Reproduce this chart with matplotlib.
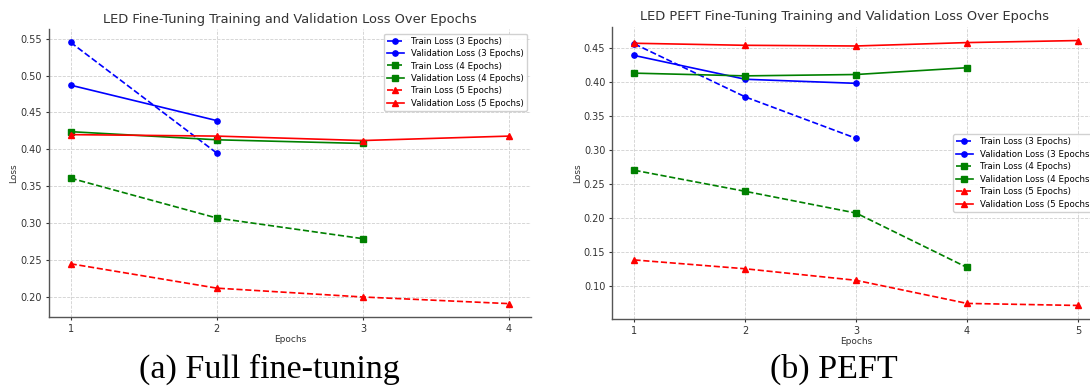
import matplotlib
matplotlib.use("Agg")
import matplotlib.pyplot as plt

# ---- data: full fine-tuning (a) ----
a_train3 = [0.545, 0.395]
a_val3 = [0.487, 0.439]
a_train4 = [0.361, 0.307, 0.279]
a_val4 = [0.424, 0.413, 0.408]
a_train5 = [0.245, 0.212, 0.200, 0.191]
a_val5 = [0.420, 0.418, 0.412, 0.418]

# ---- data: PEFT (b) ----
b_train3 = [0.456, 0.378, 0.317]
b_val3 = [0.439, 0.404, 0.398]
b_train4 = [0.270, 0.239, 0.207, 0.127]
b_val4 = [0.413, 0.409, 0.411, 0.421]
b_train5 = [0.138, 0.125, 0.108, 0.074, 0.071]
b_val5 = [0.457, 0.454, 0.453, 0.458, 0.461]

labels = ["Train Loss (3 Epochs)", "Validation Loss (3 Epochs)",
          "Train Loss (4 Epochs)", "Validation Loss (4 Epochs)",
          "Train Loss (5 Epochs)", "Validation Loss (5 Epochs)"]
title_a = "LED Fine-Tuning Training and Validation Loss Over Epochs"
title_b = "LED PEFT Fine-Tuning Training and Validation Loss Over Epochs"
caption_a = "(a) Full fine-tuning"
caption_b = "(b) PEFT"

W, H = 1090, 392
fig = plt.figure(figsize=(W / 100, H / 100), dpi=100)


def px_axes(x0, x1, ytop, ybot):
    return fig.add_axes([x0 / W, (H - ybot) / H, (x1 - x0) / W, (ybot - ytop) / H])


ax_a = px_axes(48.7, 531, 29.3, 316.7)
ax_b = px_axes(612.3, 1100, 27.3, 318.7)

styles = [("b", "o", "--"), ("b", "o", "-"), ("g", "s", "--"),
          ("g", "s", "-"), ("r", "^", "--"), ("r", "^", "-")]


def draw(ax, series):
    for vals, (c, m, ls), lab in zip(series, styles, labels):
        x = list(range(1, len(vals) + 1))
        ax.plot(x, vals, color=c, marker=m, linestyle=ls, label=lab,
                linewidth=1.2, markersize=3.8)
    for s in ["top", "right"]:
        ax.spines[s].set_visible(False)
    for s in ["left", "bottom"]:
        ax.spines[s].set_color("#555555")
        ax.spines[s].set_linewidth(1.0)
    ax.grid(True, color="#d0d0d0", linestyle="--", linewidth=0.6)
    ax.tick_params(labelsize=7, colors="#333333", length=2.5, width=0.8, pad=2.5)
    ax.set_xlabel("Epochs", fontsize=6.5, color="#333333", labelpad=1)
    ax.set_ylabel("Loss", fontsize=6.5, color="#333333", labelpad=1.5)


draw(ax_a, [a_train3, a_val3, a_train4, a_val4, a_train5, a_val5])
draw(ax_b, [b_train3, b_val3, b_train4, b_val4, b_train5, b_val5])
ax_a.set_xticks([1, 2, 3, 4])
ax_b.set_xticks([1, 2, 3, 4, 5])

leg_kw = dict(fontsize=6.2, framealpha=0.9, edgecolor="#cccccc",
              handlelength=2.0, borderpad=0.35, labelspacing=0.4)
ax_a.legend(loc="upper right", **leg_kw)
ax_b.legend(loc="center right", **leg_kw)

fig.text(290 / W, 1 - 19 / H, title_a, ha="center", va="center",
         fontsize=9.4, color="#333333")
fig.text(845 / W, 1 - 16.5 / H, title_b, ha="center", va="center",
         fontsize=9.4, color="#333333")

fig.text(269 / W, 1 - 369 / H, caption_a, ha="center", va="center",
         fontsize=24.5, family="Liberation Serif")
fig.text(834 / W, 1 - 369 / H, caption_b, ha="center", va="center",
         fontsize=24.5, family="Liberation Serif")

fig.savefig("out.png", dpi=100)
